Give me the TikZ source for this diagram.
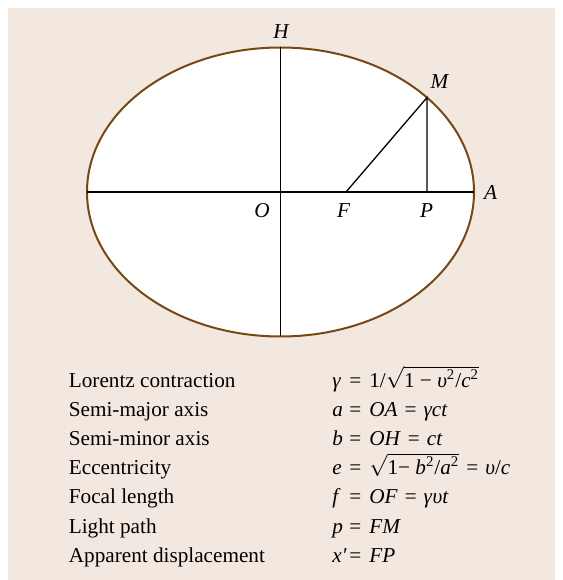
\documentclass[tikz,border=0pt]{standalone}
\usepackage{fontspec}
\setmainfont{Liberation Serif}
\usetikzlibrary{positioning,calc}
\definecolor{paperbeige}{RGB}{243,232,223}
\definecolor{rimbrown}{RGB}{120,72,20}
\newcommand{\vel}{\textit{υ}}
\newcommand{\eqs}{\hspace{3.5pt}=\hspace{3.5pt}}
\newcommand{\eqrow}[2]{\makebox[8.5pt][l]{\textit{#1}}=\hspace{4pt}#2}

\begin{document}
\begin{tikzpicture}[x=0.5pt,y=0.5pt]
\tikzstyle{pt}=[font=\fontsize{10.6}{12}\selectfont\itshape,anchor=base]
\tikzstyle{row}=[font=\fontsize{10.6}{12}\selectfont,anchor=base west,inner sep=0pt]
\tikzstyle{axis}=[line width=0.65pt,black]
\useasboundingbox (0,0) rectangle (563,580);
\fill[paperbeige] (8,0) rectangle (555,572);
% ellipse and its axes
\coordinate (O) at (280.5,388);
\draw[rimbrown,fill=white,line width=1pt] (O) ellipse [x radius=193.5,y radius=144.5];
\coordinate (A) at ($(O)+(193.5,0)$);
\coordinate (Aw) at ($(O)+(-193.5,0)$);
\coordinate (H) at ($(O)+(0,144.5)$);
\coordinate (Hs) at ($(O)+(0,-144.5)$);
\coordinate (M) at ($(O)+(40.8:193.5 and 144.5)$);
\coordinate (F) at (346,388);
\coordinate (P) at (M |- O);
\draw[axis] (Aw)--(A);
\draw[axis] (H)--(Hs);
\draw[axis] (F)--(M)--(P);
% point labels
\node[pt] (lH) at (281,541) {H};
\node[pt] (lM) at (439.5,491) {M};
\node[pt] (lA) at (490.5,380.7) {A};
\node[pt] (lO) at (262,363) {O};
\node[pt] (lF) at (343.5,363) {F};
\node[pt] (lP) at (426.5,363) {P};
% legend
\node[row] (t1) at (68.5,192.7) {Lorentz contraction};
\node[row] (t2) at (68.5,163.5) {Semi-major axis};
\node[row] (t3) at (68.5,134.3) {Semi-minor axis};
\node[row] (t4) at (68.5,105.2) {Eccentricity};
\node[row] (t5) at (68.5,76.0) {Focal length};
\node[row] (t6) at (68.5,46.8) {Light path};
\node[row] (t7) at (68.5,17.7) {Apparent displacement};
\node[row] (e1) at (332,192.7) {\eqrow{γ}{1/$\sqrt{\hbox{1 − \vel\textsuperscript{2}/\textit{c}\textsuperscript{2}}}$}};
\node[row] (e2) at (332,163.5) {\eqrow{a}{\textit{OA}\eqs\textit{γct}}};
\node[row] (e3) at (332,134.3) {\eqrow{b}{\textit{OH}\eqs\textit{ct}}};
\node[row] (e4) at (332,105.2) {\eqrow{e}{$\sqrt{\hbox{1− \textit{b}\textsuperscript{2}/\textit{a}\textsuperscript{2}}}$\eqs\vel/\textit{c}}};
\node[row] (e5) at (332,76.0) {\eqrow{f}{\textit{OF}\eqs\textit{γ}\vel\textit{t}}};
\node[row] (e6) at (332,46.8) {\eqrow{p}{\textit{FM}}};
\node[row] (e7) at (332,17.7) {\eqrow{x′}{\textit{FP}}};
\end{tikzpicture}
\end{document}
